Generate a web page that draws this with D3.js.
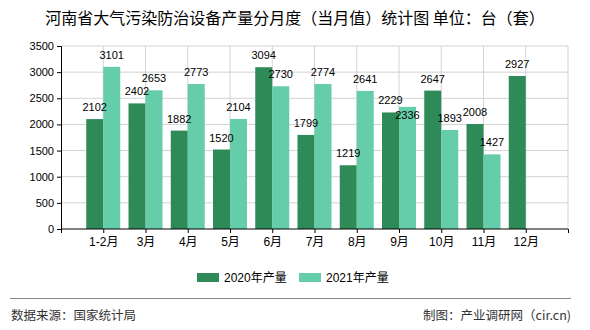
<!DOCTYPE html>
<html><head><meta charset="utf-8">
<script src="https://cdn.jsdelivr.net/npm/d3@7"></script>
<style>
body{margin:0;background:#fff;}
text{font-family:"Liberation Sans","Noto Sans CJK SC",sans-serif;}
</style></head>
<body><svg id="c" width="590" height="330"></svg>
<script>
const categories = ["1-2月","3月","4月","5月","6月","7月","8月","9月","10月","11月","12月"];
const series2020 = [2102,2402,1882,1520,3094,1799,1219,2229,2647,2008,2927];
const series2021 = [3101,2653,2773,2104,2730,2774,2641,2336,1893,1427,null];
const seriesNames = ["2020年产量","2021年产量"];
const yTicks = [0,500,1000,1500,2000,2500,3000,3500];
const colors = ["#2e8b57","#66cdaa"];
const title = "河南省大气污染防治设备产量分月度（当月值）统计图 单位：台（套）";
const sourceText = "数据来源：国家统计局";
const creditText = "制图：产业调研网（cir.cn)";

const svg = d3.select("#c");
const L = 61, R = 568, T = 46, B = 229;
const y = d3.scaleLinear().domain([0,3500]).range([B,T]);
const idx = d3.range(categories.length + 2);
const x = d3.scalePoint().domain(idx).range([L,R]);
const bw = 17;

// gridlines
svg.append("g").selectAll("line").data(yTicks.slice(1)).join("line")
  .attr("x1",L).attr("x2",R).attr("y1",d=>y(d)).attr("y2",d=>y(d))
  .attr("stroke","#d3d3d3").attr("stroke-width",1);
svg.append("g").selectAll("line").data(idx.slice(1)).join("line")
  .attr("x1",d=>x(d)).attr("x2",d=>x(d)).attr("y1",T).attr("y2",B)
  .attr("stroke","#d3d3d3").attr("stroke-width",1);

// bars
const rows = categories.map((c,i)=>({c,i:i+1,v:[series2020[i],series2021[i]]}));
[0,1].forEach(s=>{
  svg.append("g").selectAll("rect").data(rows.filter(r=>r.v[s]!=null)).join("rect")
    .attr("x",r=>s===0 ? x(r.i)-bw : x(r.i))
    .attr("width",bw)
    .attr("y",r=>y(r.v[s]))
    .attr("height",r=>B-y(r.v[s]))
    .attr("fill",colors[s]);
});

// value labels with simple collision avoidance
const lab = svg.append("g").attr("font-size",11).attr("text-anchor","middle").attr("fill","#000");
rows.forEach(r=>{
  const y0 = y(r.v[0]) - 8;
  lab.append("text").attr("x",x(r.i)-bw/2).attr("y",y0).text(r.v[0]);
  if(r.v[1]!=null){
    let y1 = y(r.v[1]) - 8;
    if(Math.abs(y1-y0) < 13) y1 = y0 + 15;
    lab.append("text").attr("x",x(r.i)+bw/2).attr("y",y1).text(r.v[1]);
  }
});

// y axis
const ya = svg.append("g").attr("transform",`translate(${L},0)`)
  .call(d3.axisLeft(y).tickValues(yTicks).tickSize(4).tickPadding(3).tickFormat(d3.format("d")));
ya.select(".domain").attr("stroke","#000");
ya.selectAll("text").attr("font-size",11).attr("fill","#000");
ya.selectAll(".tick line").attr("stroke","#000");

// x axis
const xa = svg.append("g").attr("transform",`translate(0,${B})`)
  .call(d3.axisBottom(x).tickSize(4).tickPadding(4).tickFormat(d=> (d>=1 && d<=categories.length) ? categories[d-1] : ""));
xa.select(".domain").attr("stroke","#000").attr("d",`M${L},0H${R}`);
xa.selectAll("text").attr("font-size",12).attr("fill","#000");
xa.selectAll(".tick line").attr("stroke","#000");

// title
svg.append("text").attr("x",295).attr("y",24).attr("text-anchor","middle")
  .attr("font-size",16).attr("fill","#000")
  .style("font-family","'Noto Sans CJK SC',sans-serif").text(title);

// legend
const lg = svg.append("g");
const lx = [197,299];
seriesNames.forEach((n,i)=>{
  lg.append("rect").attr("x",lx[i]).attr("y",273).attr("width",22).attr("height",9).attr("fill",colors[i]);
  lg.append("text").attr("x",lx[i]+27).attr("y",282).attr("font-size",12).attr("fill","#000").text(n);
});

// footer
svg.append("line").attr("x1",10).attr("x2",571).attr("y1",298.5).attr("y2",298.5).attr("stroke","#888").attr("stroke-width",1);
svg.append("text").attr("x",11).attr("y",320).attr("font-size",12.5).attr("fill","#333")
  .style("font-family","'Noto Sans CJK SC',sans-serif").text(sourceText);
svg.append("text").attr("x",571).attr("y",320).attr("text-anchor","end").attr("font-size",12.5).attr("fill","#333")
  .style("font-family","'Noto Sans CJK SC',sans-serif").text(creditText);
</script></body></html>
